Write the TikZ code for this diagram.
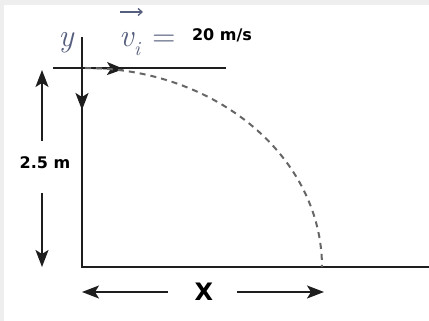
\documentclass[tikz,border=0pt]{standalone}
\usepackage{fontspec}
\newfontfamily\labfont{DejaVu Sans}
\usetikzlibrary{arrows.meta}
\definecolor{slate}{RGB}{85,95,125}
\definecolor{bgray}{RGB}{238,238,238}
\definecolor{ink}{RGB}{30,30,30}
\tikzset{
  lin/.style={draw=ink, line width=1.8pt},
  arr/.style={draw=ink, line width=1.5pt, -{Stealth[length=17pt,width=13pt,inset=4pt]}},
  traj/.style={draw=black!60, line width=2pt, dash pattern=on 6pt off 5pt},
  sanslab/.style={font=\labfont\bfseries\fontsize{16}{16}\selectfont, text=black, inner sep=1pt},
  mathlab/.style={text=slate, inner sep=0pt, font=\fontsize{32}{32}\selectfont\itshape},
  sublab/.style={text=slate, inner sep=0pt, font=\fontsize{20}{20}\selectfont\itshape},
  vecarr/.style={draw=slate, line width=1.3pt, -{Straight Barb[length=4pt,width=7pt]}}
}
\begin{document}
\begin{tikzpicture}[x=1pt,y=1pt]
\fill[bgray] (0,0) rectangle (429,321);
\fill[white] (4,0) rectangle (429,316);
\useasboundingbox (0,0) rectangle (429,321);
% coordinates
\coordinate (topL) at (53,253);
\coordinate (topR) at (226,253);
\coordinate (wallT) at (82,284);
\coordinate (corner) at (82,54);
\coordinate (groundR) at (429,54);
\coordinate (origin) at (82,253);
\coordinate (vxtip) at (124,252);
\coordinate (vytip) at (82,211);
\coordinate (hTop) at (42,251);
\coordinate (hTopEnd) at (42,180);
\coordinate (hBotStart) at (42,128);
\coordinate (hBot) at (42,54);
\coordinate (xL) at (82,29);
\coordinate (xLEnd) at (168,29);
\coordinate (xRStart) at (237,29);
\coordinate (xR) at (324,29);
\coordinate (arrL) at (120,309);
\coordinate (arrR) at (143,309);
% lines
\path[lin] (topL) -- (topR);
\path[lin] (wallT) -- (corner) -- (groundR);
% velocity arrows
\path[arr] (origin) -- (vxtip);
\path[arr] (origin) -- (vytip);
% trajectory
\path[traj] (85,253) arc[start angle=90, end angle=0, x radius=237, y radius=199];
% height dimension
\node[sanslab] (hlab) at (45,158) {2.5 m};
\path[arr] (hTopEnd) -- (hTop);
\path[arr] (hBotStart) -- (hBot);
% range dimension
\node[sanslab, font=\labfont\bfseries\fontsize{24}{24}\selectfont] (xlab) at (204,29) {X};
\path[arr] (xLEnd) -- (xL);
\path[arr] (xRStart) -- (xR);
% labels
\node[mathlab, anchor=base] (ylab) at (66,274) {y};
\node[mathlab, anchor=base west] (vlab) at (119,274) {v};
\node[sublab, anchor=base] (ilab) at (137,265) {i};
\path[vecarr] (arrL) -- (arrR);
\node[mathlab, font=\fontsize{32}{32}\selectfont, anchor=base] (eq) at (164,274) {=};
\node[sanslab] (speed) at (222,286) {20 m/s};
\end{tikzpicture}
\end{document}
